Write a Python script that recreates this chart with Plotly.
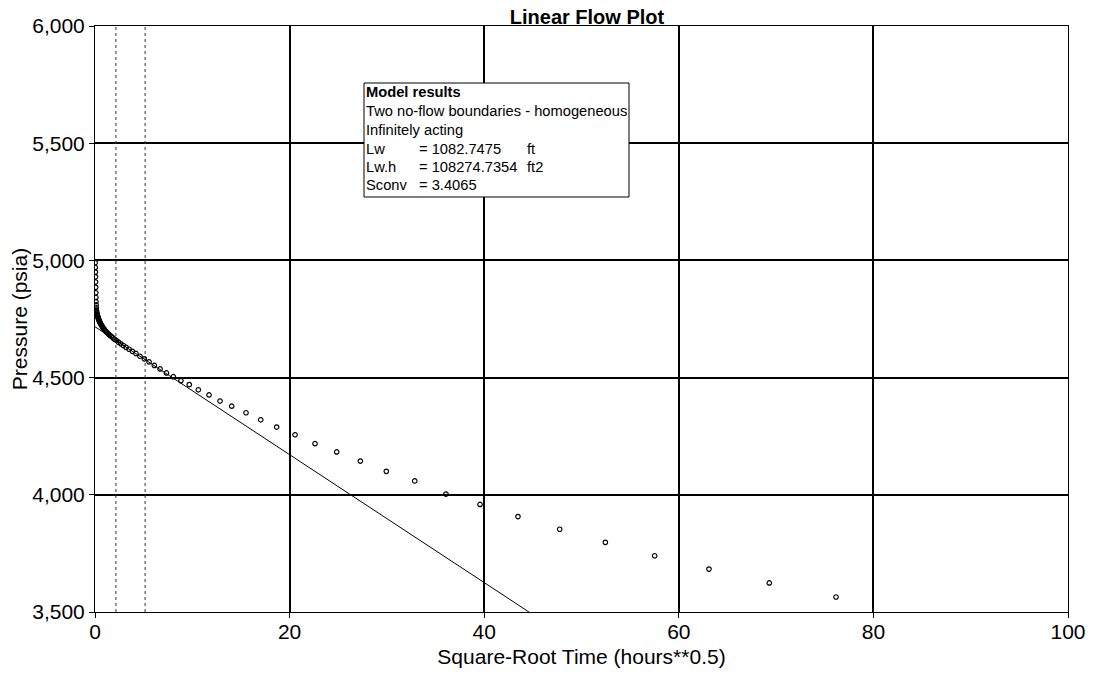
import plotly.graph_objects as go

# measured data: square-root time (hours**0.5) vs pressure (psia)
sqrt_time = [
    0.02, 0.03, 0.04, 0.05, 0.06, 0.07, 0.08, 0.09, 0.10, 0.11, 0.12, 0.14,
    0.15, 0.17, 0.18, 0.20, 0.22, 0.24, 0.26, 0.29, 0.32, 0.35, 0.38, 0.42,
    0.46, 0.50, 0.55, 0.60, 0.66, 0.73, 0.80, 0.87, 0.96, 1.05, 1.15, 1.26,
    1.39, 1.52, 1.67, 1.83, 2.00, 2.20, 2.42, 2.65, 2.91, 3.19, 3.50, 3.84,
    4.21, 4.62, 5.07, 5.56, 6.10, 6.69, 7.34, 8.05, 8.83, 9.69, 10.62, 11.72,
    12.85, 14.05, 15.52, 17.03, 18.67, 20.56, 22.61, 24.84, 27.27, 29.94,
    32.86, 36.07, 39.57, 43.47, 47.76, 52.45, 57.52, 63.10, 69.30, 76.16,
]
pressure = [
    4990, 4970, 4950, 4930, 4908, 4885, 4862, 4842, 4824, 4810, 4798, 4787,
    4782, 4778, 4775, 4771, 4768, 4765, 4762, 4759, 4756, 4752, 4748, 4744,
    4740, 4736, 4732, 4728, 4724, 4719, 4714, 4710, 4705, 4700, 4696, 4691,
    4686, 4681, 4676, 4670, 4664, 4658, 4651, 4644, 4637, 4629, 4621, 4612,
    4603, 4591, 4580, 4567, 4552, 4537, 4520, 4504, 4487, 4470, 4448, 4426,
    4400, 4378, 4350, 4320, 4289, 4256, 4218, 4183, 4144, 4100,
    4059, 4003, 3959, 3907, 3853, 3797, 3740, 3683, 3624, 3564,
]

# model straight line (linear flow)
model_x = [0.0, 44.6]
model_p = [4717, 3500]

# selected analysis window
window_x = [2.15, 5.15]

# model results box
box_labels = ["Model results", "Two no-flow boundaries - homogeneous",
              "Infinitely acting", "Lw", "Lw.h", "Sconv"]
box_values = ["", "", "", "= 1082.7475", "= 108274.7354", "= 3.4065"]
box_units = ["", "", "", "ft", "ft2", ""]

FONT = "Liberation Sans, Arial, sans-serif"
OFF = 8                      # page body margin in the browser
W, H = 1098 - 2 * OFF, 676 - 2 * OFF
# plot area on screen: x 95..1068, y 26..612
L, R = 95 - OFF, W - (1068 - OFF)
T, B = 26 - OFF, H - (612 - OFF)
PW, PH = W - L - R, H - T - B


def px(x):
    """screen pixel x -> paper coords"""
    return (x - OFF - L) / PW


def py(y):
    """screen pixel y -> paper coords"""
    return (H - B - (y - OFF)) / PH


fig = go.Figure()

for wx in window_x:
    fig.add_trace(go.Scatter(
        x=[wx, wx], y=[3500, 6000], mode="lines",
        line=dict(color="#333", width=1, dash="dot"),
        hoverinfo="skip", showlegend=False,
    ))

fig.add_trace(go.Scatter(
    x=model_x, y=model_p, mode="lines",
    line=dict(color="black", width=1),
    showlegend=False,
))

fig.add_trace(go.Scatter(
    x=sqrt_time, y=pressure, mode="markers",
    marker=dict(symbol="circle-open", size=4.5, color="black",
                line=dict(color="black", width=1.2)),
    showlegend=False,
))

# result box
fig.add_shape(type="rect", xref="paper", yref="paper",
              x0=px(364), x1=px(629), y0=py(197), y1=py(83),
              line=dict(color="black", width=1), fillcolor="white",
              layer="above")

line_y = [92, 111, 130, 149, 167, 185]
for i, yy in enumerate(line_y):
    lab = box_labels[i]
    if i == 0:
        lab = f"<b>{lab}</b>"
    for txt, xx in ((lab, 367), (box_values[i], 420), (box_units[i], 528)):
        if not txt:
            continue
        fig.add_annotation(
            x=px(xx), y=py(yy), xref="paper", yref="paper",
            text=txt, showarrow=False, xanchor="left", yanchor="middle",
            xshift=-3,
            font=dict(family=FONT, size=14.7, color="black"),
        )

axis_common = dict(
    showline=True, linecolor="black", linewidth=1, mirror=True,
    showgrid=True, gridcolor="black", gridwidth=1.5,
    ticks="outside", ticklen=5, tickcolor="black",
    tickfont=dict(family=FONT, size=21, color="black"),
    zeroline=False, automargin=False,
)

fig.update_xaxes(
    range=[0, 100], dtick=20, tick0=0, ticklabelstandoff=-4,
    title=dict(text="Square-Root Time (hours**0.5)",
               font=dict(family=FONT, size=21, color="black")),
    **axis_common,
)
fig.update_yaxes(
    range=[3500, 6000], dtick=500, tick0=3500, tickformat=",",
    title=dict(text="Pressure (psia)",
               font=dict(family=FONT, size=21, color="black")),
    **axis_common,
)

fig.update_layout(
    width=W, height=H,
    margin=dict(l=L, r=R, t=T, b=B, autoexpand=False),
    plot_bgcolor="white", paper_bgcolor="white",
    title=dict(text="<b>Linear Flow Plot</b>", x=px(587), xref="paper",
               xanchor="center",
               y=1, yref="container", yanchor="top", pad=dict(t=2),
               font=dict(family=FONT, size=20, color="black")),
    font=dict(family=FONT, color="black"),
)

fig.write_html("out.html")
